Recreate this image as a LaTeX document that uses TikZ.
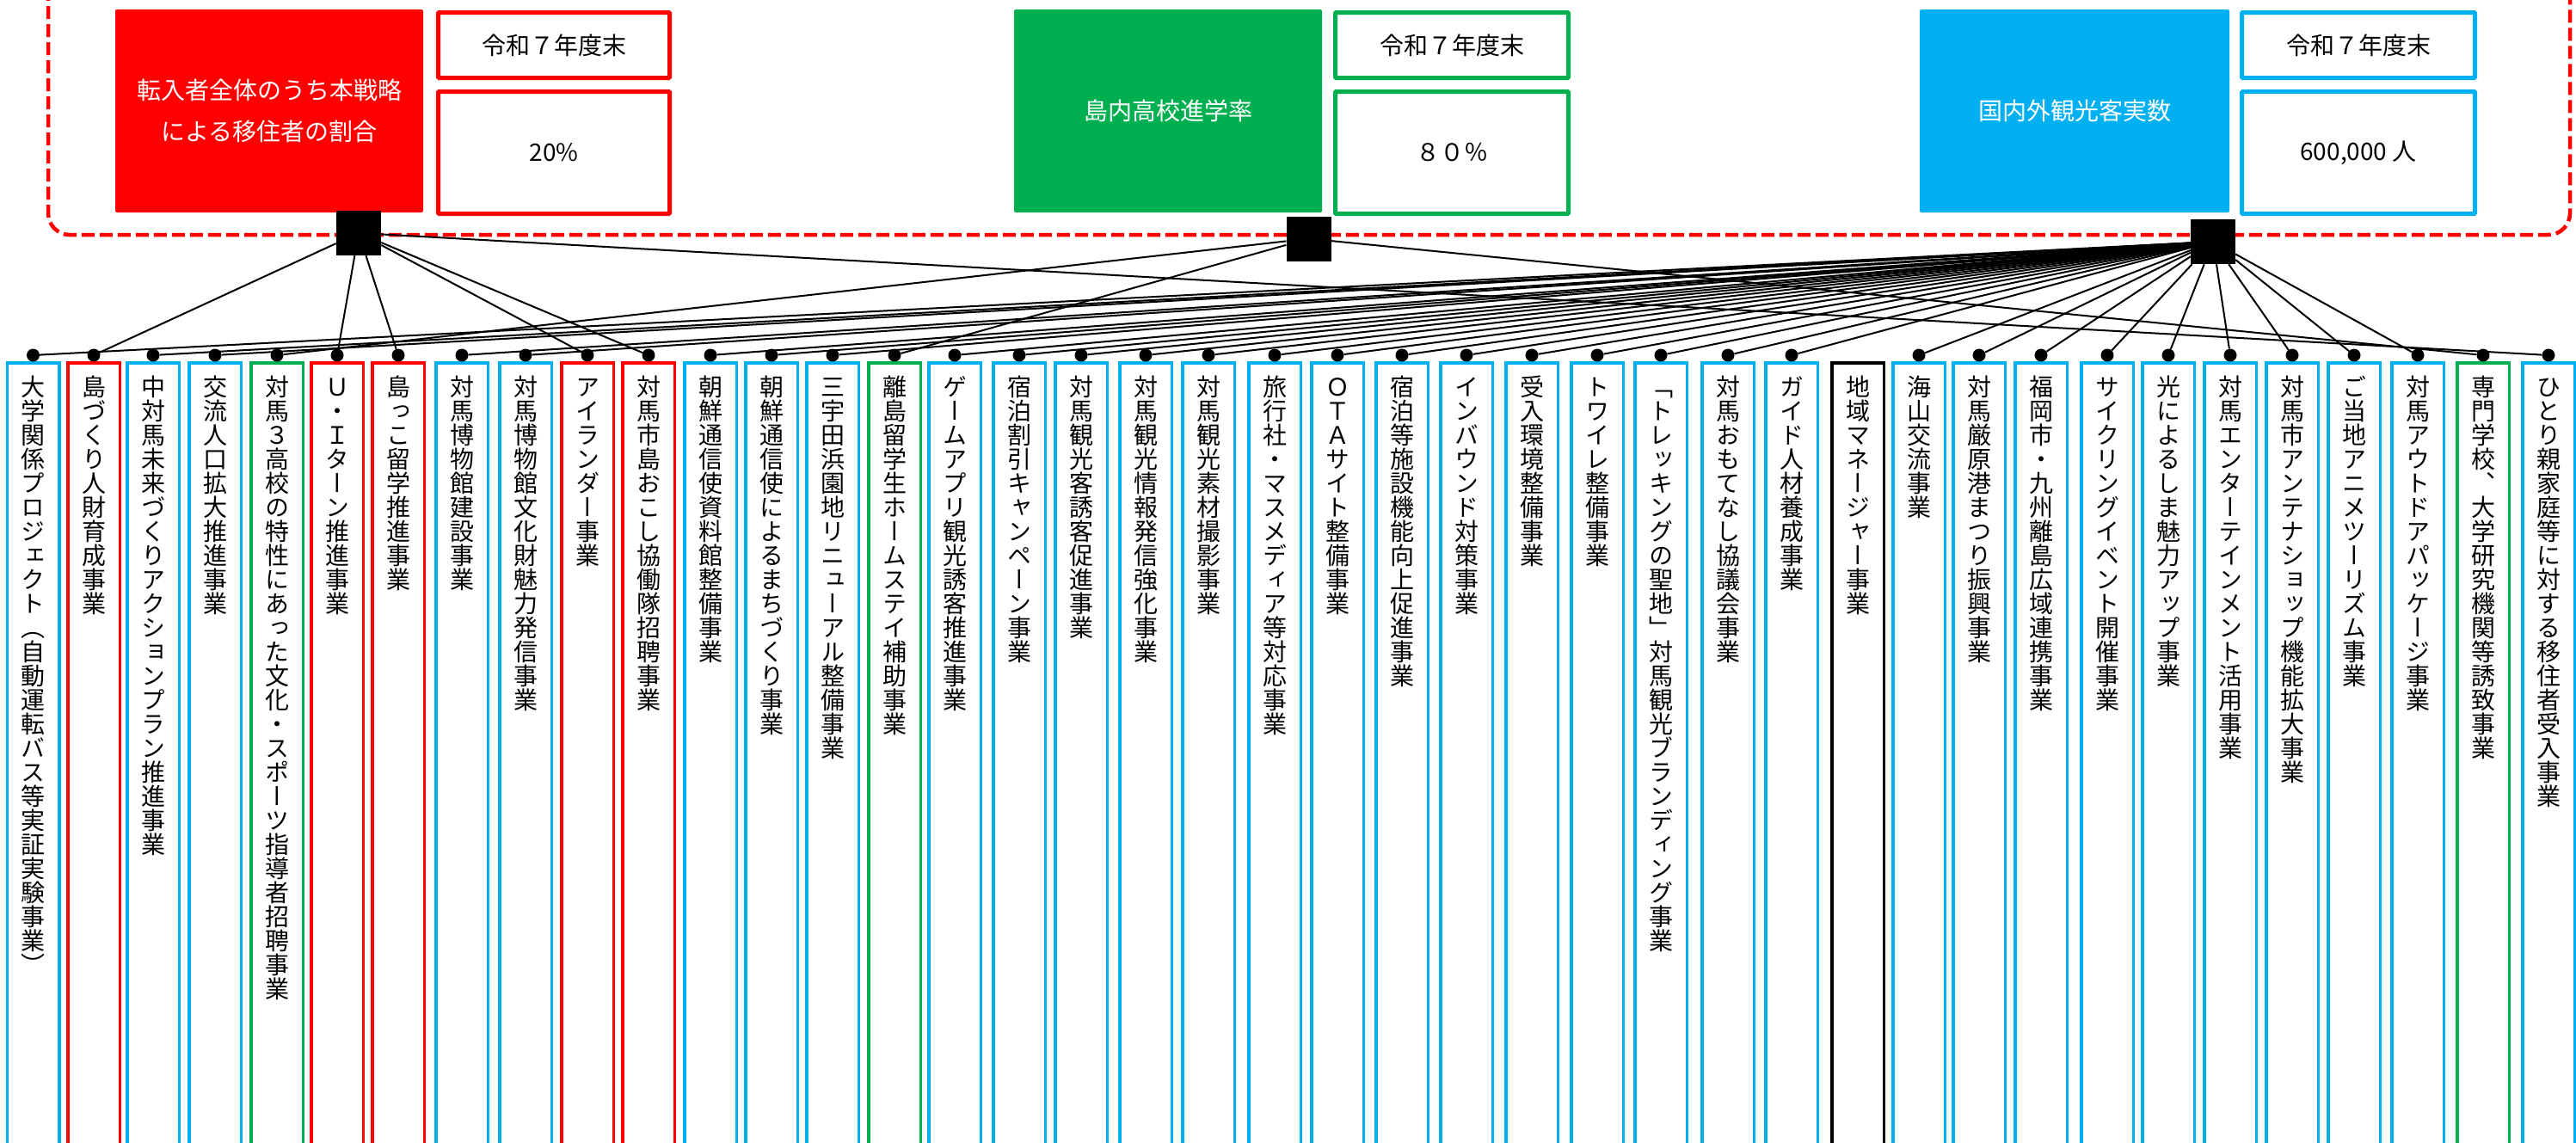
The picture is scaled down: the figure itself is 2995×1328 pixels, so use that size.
\documentclass[tikz,border=0pt]{standalone}
\usepackage{fontspec}
\setmainfont{Noto Sans CJK JP}
\newfontfamily\jp{Noto Sans CJK JP}
\newfontfamily\jpv[RawFeature=+vert]{Noto Sans CJK JP}
\definecolor{kred}{HTML}{FF0000}
\definecolor{kgreen}{HTML}{00B050}
\definecolor{kblue}{HTML}{00B0F0}
\makeatletter
\def\vtxt#1{\expandafter\vtxt@a#1\relax}
\def\vtxt@a#1{\ifx\relax#1\else\hbox to 28pt{\hss\vrule width0pt height24.6pt depth3.4pt #1\hss}\expandafter\vtxt@a\fi}
\makeatother
\newcommand\colt[1]{\vbox{\jpv\fontsize{28}{28}\selectfont\baselineskip=28pt\lineskiplimit=-100pt\lineskip=0pt\vtxt{#1}}}
\tikzset{
  framebox/.style={draw=kred, line width=4.5pt, dash pattern=on 15pt off 6pt, rounded corners=25pt},
  kpifill/.style={rounded corners=2pt},
  kpibox/.style={line width=5pt, rounded corners=1pt, fill=white},
  kpitext/.style={font=\jp\fontsize{28}{48}\selectfont, align=center, inner sep=0pt},
  hubsq/.style={rectangle, fill=black, minimum size=52pt, inner sep=0pt},
  dotn/.style={circle, fill=black, minimum size=15pt, inner sep=0pt},
  colbox/.style={line width=3.5pt},
  conn/.style={line width=2pt, black},
}
\begin{document}
\begin{tikzpicture}[x=1pt,y=-1pt]
\useasboundingbox (0,0) rectangle (2995,1328);
\clip (0,0) rectangle (2995,1328);
\fill[white] (0,0) rectangle (2995,1328);
% dashed frame
\draw[framebox] (56,-60) rectangle (2988,273);
% KPI 1
\fill[kred, kpifill] (134,11) rectangle (492,247);
\node[kpitext, text=white] (k1) at (313,129) {転入者全体のうち本戦略\\による移住者の割合};
\draw[kpibox, draw=kred] (509.5,14.5) rectangle (778.5,90.5);
\node[kpitext] (k1a) at (644,52.5) {令和７年度末};
\draw[kpibox, draw=kred] (509.5,106.5) rectangle (778.5,248.5);
\node[kpitext] (k1b) at (644,177.5) {20\%};
% KPI 2
\fill[kgreen, kpifill] (1179,11) rectangle (1537,247);
\node[kpitext, text=white] (k2) at (1358,129) {島内高校進学率};
\draw[kpibox, draw=kgreen] (1552.5,14.5) rectangle (1823.5,90.5);
\node[kpitext] (k2a) at (1688,52.5) {令和７年度末};
\draw[kpibox, draw=kgreen] (1552.5,106.5) rectangle (1823.5,248.5);
\node[kpitext] (k2b) at (1688,177.5) {８０％};
% KPI 3
\fill[kblue, kpifill] (2232,11) rectangle (2592,247);
\node[kpitext, text=white] (k3) at (2412,129) {国内外観光客実数};
\draw[kpibox, draw=kblue] (2606.5,14.5) rectangle (2877.5,90.5);
\node[kpitext] (k3a) at (2742,52.5) {令和７年度末};
\draw[kpibox, draw=kblue] (2606.5,106.5) rectangle (2877.5,248.5);
\node[kpitext] (k3b) at (2742,177.5) {600,000 人};
% hubs
\node[hubsq] (h1) at (417,271) {};
\node[hubsq] (h2) at (1521.5,277.5) {};
\node[hubsq] (h3) at (2573,281) {};
% columns
\foreach \L/\c/\t/\h [count=\i] in {
6.5/kblue/大学関係プロジェクト（自動運転バス等実証実験事業）/3,
77/kred/島づくり人財育成事業/1,
146/kblue/中対馬未来づくりアクションプラン推進事業/3,
218/kblue/交流人口拡大推進事業/3,
290/kgreen/対馬３高校の特性にあった文化・スポーツ指導者招聘事業/2,
360/kred/Ｕ・Ｉターン推進事業/1,
431/kred/島っこ留学推進事業/1,
505/kblue/対馬博物館建設事業/3,
579/kblue/対馬博物館文化財魅力発信事業/3,
651/kred/アイランダー事業/1,
722/kred/対馬市島おこし協働隊招聘事業/1,
794/kblue/朝鮮通信使資料館整備事業/3,
865/kblue/朝鮮通信使によるまちづくり事業/3,
936/kblue/三宇田浜園地リニューアル整備事業/3,
1008/kgreen/離島留学生ホームステイ補助事業/2,
1078/kblue/ゲームアプリ観光誘客推進事業/3,
1153/kblue/宿泊割引キャンペーン事業/3,
1225/kblue/対馬観光客誘客促進事業/3,
1300/kblue/対馬観光情報発信強化事業/3,
1373/kblue/対馬観光素材撮影事業/3,
1450/kblue/旅行社・マスメディア等対応事業/3,
1523/kblue/ＯＴＡサイト整備事業/3,
1598/kblue/宿泊等施設機能向上促進事業/3,
1673/kblue/インバウンド対策事業/3,
1749/kblue/受入環境整備事業/3,
1825/kblue/トワイレ整備事業/3,
1899/kblue/「トレッキングの聖地」対馬観光ブランディング事業/3,
1977/kblue/対馬おもてなし協議会事業/3,
2051/kblue/ガイド人材養成事業/3,
2128/black/地域マネージャー事業/0,
2199/kblue/海山交流事業/3,
2269/kblue/対馬厳原港まつり振興事業/3,
2341/kblue/福岡市・九州離島広域連携事業/3,
2418/kblue/サイクリングイベント開催事業/3,
2489/kblue/光によるしま魅力アップ事業/3,
2561/kblue/対馬エンターテインメント活用事業/3,
2633/kblue/対馬市アンテナショップ機能拡大事業/3,
2705/kblue/ご当地アニメツーリズム事業/3,
2779/kblue/対馬アウトドアパッケージ事業/3,
2855/kgreen/専門学校、大学研究機関等誘致事業/2,
2931/kblue/ひとり親家庭等に対する移住者受入事業/1}{
  \draw[colbox, draw=\c] (\L+1.75,422) rectangle (\L+62.25,1345);
  \node[anchor=north, inner sep=0pt] (t\i) at (\L+32,436) {\colt{\t}};
  \ifnum\h>0
    \node[dotn] (d\i) at (\L+32,413) {};
    \draw[conn] (h\h) -- (d\i);
  \fi
}
\end{tikzpicture}
\end{document}
